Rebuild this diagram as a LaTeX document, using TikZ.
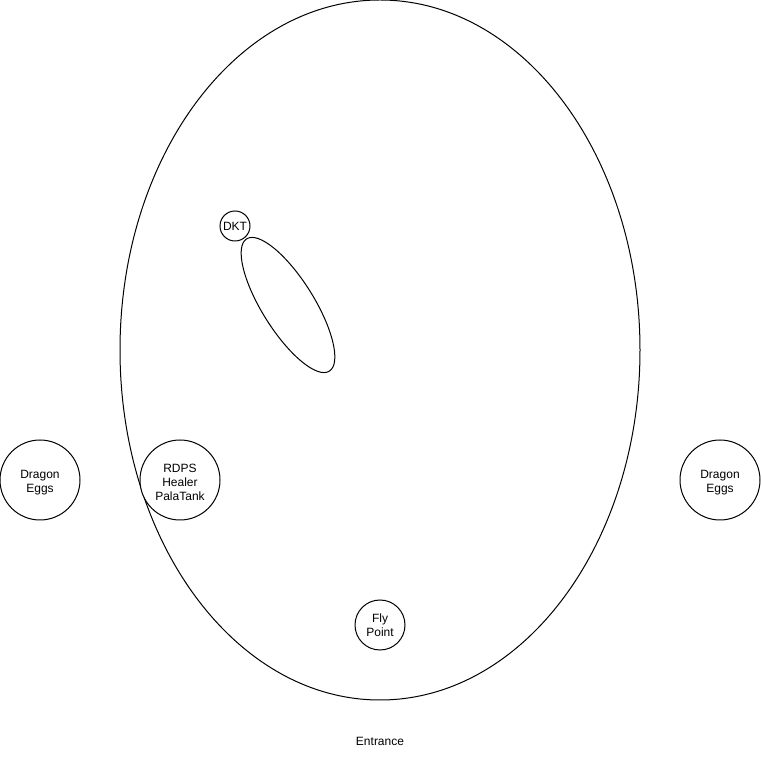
\documentclass[tikz,border=0pt]{standalone}
\usepackage{fontspec}
\setmainfont{Liberation Sans}
\usetikzlibrary{shapes.geometric}
\begin{document}
\begin{tikzpicture}[x=1pt,y=1pt,
  every node/.style={inner sep=0pt, outer sep=0pt},
  shp/.style={draw=black, line width=1pt},
  circ/.style={shp, circle, align=center, font=\fontsize{12}{14}\selectfont},
  txt/.style={label={[align=center, font=\fontsize{12}{14}\selectfont, yshift=-2.5pt]center:#1}},
  lbl/.style={align=center, font=\fontsize{12}{14}\selectfont}]
\useasboundingbox (0,0) rectangle (761,761);
\node[shp, ellipse, minimum width=52, minimum height=156, rotate=32] (pit) at (288,456) {};
\node[shp, ellipse, minimum width=520, minimum height=700] (arena) at (380,411) {};
\node[circ, minimum size=30] (dkt) at (235,535) {DKT};
\node[circ, minimum size=80, txt={Dragon\\Eggs}] (eggsl) at (40,281) {};
\node[circ, fill=white, minimum size=80, txt={RDPS\\Healer\\PalaTank}] (raid) at (180,281) {};
\node[circ, minimum size=80, txt={Dragon\\Eggs}] (eggsr) at (720,281) {};
\node[circ, minimum size=50] (fly) at (380,136) {Fly\\Point};
\node[lbl] (entrance) at (380,20) {Entrance};
\end{tikzpicture}
\end{document}
